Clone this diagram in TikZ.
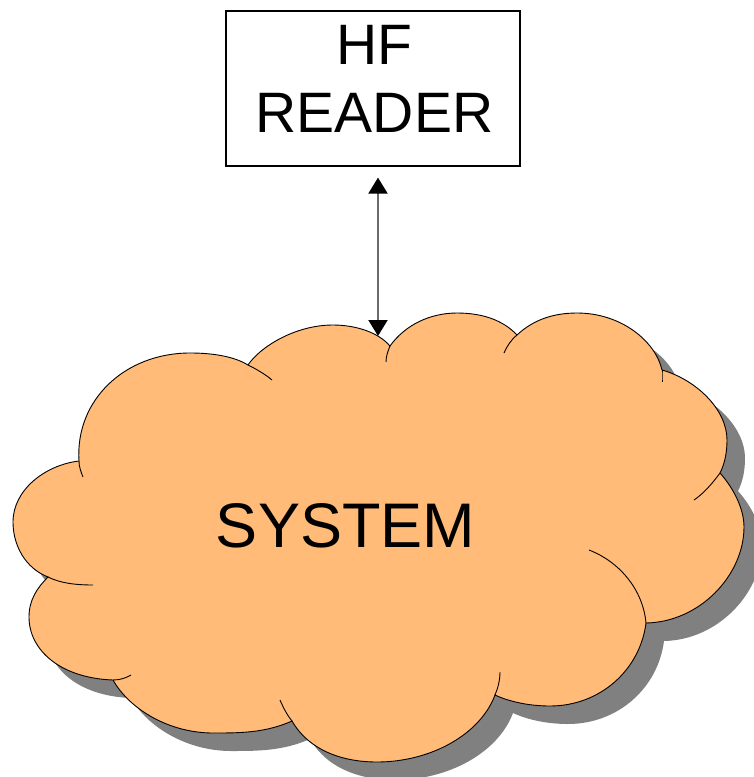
\documentclass[tikz,border=0pt]{standalone}
\usepackage{fontspec}
\setmainfont{Liberation Sans}
\usetikzlibrary{arrows.meta}
\definecolor{cloudfill}{HTML}{FFBB77}
\definecolor{cloudshadow}{HTML}{808080}
\definecolor{linkgray}{HTML}{6A6A6A}
\tikzset{
  readerbox/.style={draw=black,line width=1.2pt,fill=white,inner sep=0pt,minimum width=294pt,minimum height=155pt,align=center,font=\fontsize{57pt}{68pt}\selectfont},
  cloudline/.style={draw=black,line width=0.9pt},
  link/.style={draw=linkgray,line width=2pt,{Triangle[length=16pt,width=19pt,color=black,fill=black]}-{Triangle[length=16pt,width=19pt,color=black,fill=black]}}
}
\def\cloudoutline{(248,365)
 .. controls (260,347) and (295,325) .. (333,325)
 .. controls (355,325) and (378,332) .. (390,346)
 .. controls (405,325) and (430,313) .. (457,313)
 .. controls (482,313) and (503,320) .. (517,335)
 .. controls (533,320) and (553,313) .. (577,313)
 .. controls (620,313) and (655,340) .. (662,370)
 .. controls (697,380) and (727,410) .. (727,440)
 .. controls (727,452) and (725,463) .. (720,473)
 .. controls (735,490) and (744,510) .. (744,527)
 .. controls (744,575) and (700,622) .. (646,623)
 .. controls (640,670) and (600,706) .. (550,706)
 .. controls (530,706) and (510,702) .. (495,695)
 .. controls (480,735) and (430,762) .. (377,762)
 .. controls (345,762) and (310,752) .. (292,721)
 .. controls (265,733) and (240,733) .. (213,733)
 .. controls (170,733) and (130,710) .. (113,680)
 .. controls (60,678) and (29,650) .. (29,617)
 .. controls (29,600) and (37,588) .. (48,577)
 .. controls (25,568) and (13,545) .. (13,522)
 .. controls (13,490) and (45,465) .. (79,461)
 .. controls (75,400) and (125,353) .. (190,353)
 .. controls (215,353) and (235,357) .. (248,365) -- cycle}
\begin{document}
\begin{tikzpicture}[x=1pt,y=-1pt]
\useasboundingbox (0,0) rectangle (754,777);
\clip (0,0) rectangle (754,777);
\fill[cloudshadow,shift={(18pt,-18pt)}] \cloudoutline;
\fill[cloudfill] \cloudoutline;
\draw[cloudline] \cloudoutline;
\draw[cloudline] (79,461) .. controls (79,467) and (81,472) .. (83,477);
\draw[cloudline] (248,365) .. controls (256,369) and (265,374) .. (272,380);
\draw[cloudline] (48,577) .. controls (60,583) and (75,585) .. (93,585);
\draw[cloudline] (113,680) .. controls (120,680) and (126,678) .. (131,675);
\draw[cloudline] (292,721) .. controls (287,715) and (283,707) .. (280,700);
\draw[cloudline] (495,695) .. controls (498,688) and (500,680) .. (500,672);
\draw[cloudline] (646,623) .. controls (643,590) and (620,562) .. (589,550);
\draw[cloudline] (720,473) .. controls (712,484) and (703,494) .. (694,500);
\draw[cloudline] (662,370) .. controls (662,374) and (662,378) .. (662,382);
\draw[cloudline] (517,335) .. controls (511,340) and (507,346) .. (504,353);
\draw[cloudline] (390,346) .. controls (388,351) and (386,356) .. (386,362);
\node[readerbox] (reader) at (373,88.5) {\hspace*{3pt}HF\\\hspace*{3pt}READER\rule[-19pt]{0pt}{0pt}};
\node[font=\fontsize{63pt}{70pt}\selectfont,anchor=base,inner sep=0pt] (system) at (345.5,547) {SYSTEM};
\coordinate (cloudtop) at (378,336);
\draw[link,shorten <=11pt] (reader.south -| cloudtop) -- (cloudtop);
\end{tikzpicture}
\end{document}
